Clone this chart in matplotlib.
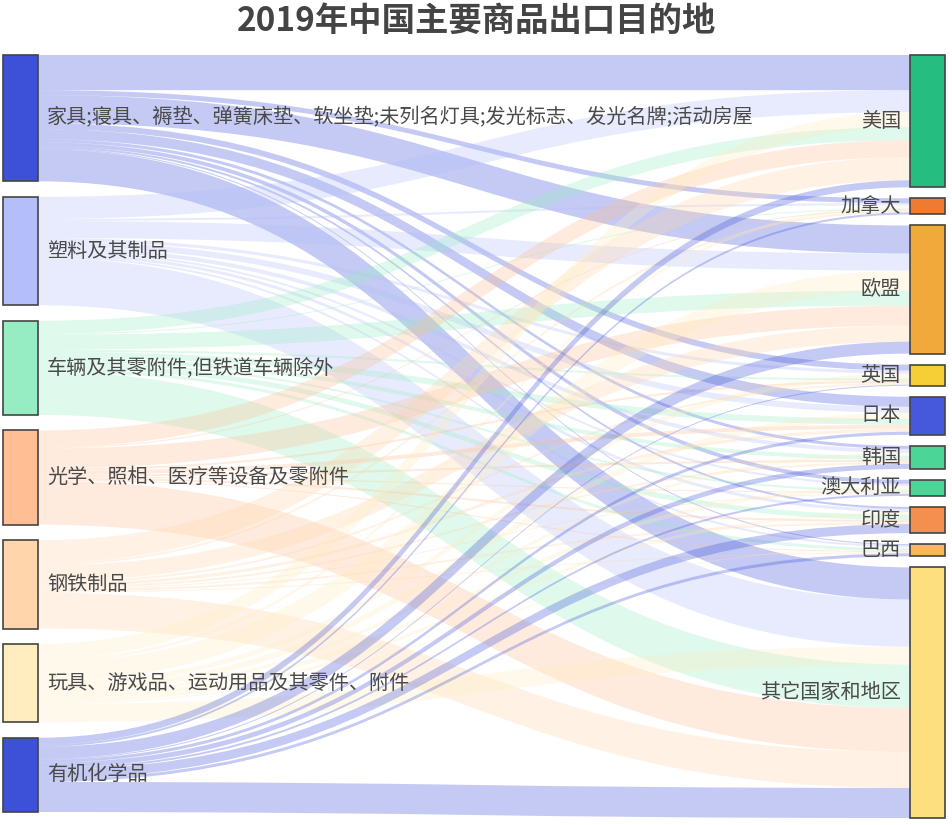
import matplotlib
matplotlib.use('Agg')
import matplotlib.pyplot as plt
from matplotlib.path import Path
from matplotlib.patches import PathPatch, Rectangle
import numpy as np

plt.rcParams['font.family'] = ['Noto Sans CJK SC', 'DejaVu Sans']

title = '2019年中国主要商品出口目的地'

sources = ['家具;寝具、褥垫、弹簧床垫、软坐垫;未列名灯具;发光标志、发光名牌;活动房屋',
           '塑料及其制品',
           '车辆及其零附件,但铁道车辆除外',
           '光学、照相、医疗等设备及零附件',
           '钢铁制品',
           '玩具、游戏品、运动用品及其零件、附件',
           '有机化学品']
targets = ['美国', '加拿大', '欧盟', '英国', '日本', '韩国', '澳大利亚', '印度', '巴西', '其它国家和地区']

source_colors = ['#3d50d8', '#b3befa', '#97edc3', '#ffbe94', '#ffd6ac', '#ffecbf', '#3d50d8']
target_colors = ['#26be80', '#ee7b31', '#f0a93a', '#f6ce35', '#4659dc', '#4bd697', '#4bd697',
                 '#f58f4f', '#fdb560', '#fedf80']

# export value (USD bn), one list per source, in target order
v_furniture = [27.6, 3.9, 22.0, 4.7, 7.9, 2.4, 3.1, 1.6, 0.8, 25.2]
v_plastics  = [17.3, 1.6, 13.4, 2.4, 4.7, 3.1, 1.6, 2.4, 1.6, 37.0]
v_vehicles  = [10.2, 0.8, 11.8, 1.6, 4.7, 3.1, 1.6, 3.9, 2.4, 33.9]
v_optical   = [13.4, 0.8, 15.7, 1.6, 3.1, 1.6, 0.8, 1.6, 0.8, 34.6]
v_steel     = [18.1, 1.6, 12.6, 1.6, 2.4, 1.6, 0.8, 1.6, 0.8, 28.3]
v_toys      = [11.8, 2.4, 15.7, 3.9, 4.7, 2.4, 3.1, 2.4, 0.8, 14.2]
v_organic   = [5.5, 1.6, 9.4, 0.8, 2.4, 3.9, 1.6, 7.1, 2.4, 23.6]

vals = np.array([v_furniture, v_plastics, v_vehicles, v_optical, v_steel, v_toys, v_organic])

# order in which sources stack at each destination node (as in the reference)
target_stack_order = [0, 1, 5, 2, 3, 4, 6]

W, H = 953, 825
fig = plt.figure(figsize=(W / 100, H / 100), dpi=100)
ax = fig.add_axes([0, 0, 1, 1])
ax.set_xlim(0, W)
ax.set_ylim(H, 0)
ax.axis('off')

top, bottom_r, bottom_l = 55, 818, 812
pad = 11
node_w = 35
xl, xr = 3, 910

src_tot = vals.sum(axis=1)
tgt_tot = vals.sum(axis=0)
ky = (bottom_r - top - pad * (len(targets) - 1)) / tgt_tot.sum()
lpad = (bottom_l - top - src_tot.sum() * ky) / (len(sources) - 1)

src_y0 = []
y = top
for t in src_tot:
    src_y0.append(y)
    y += t * ky + lpad
tgt_y0 = []
y = top
for t in tgt_tot:
    tgt_y0.append(y)
    y += t * ky + pad

# links
src_off = list(src_y0)
tgt_off = list(tgt_y0)
link_pos = {}
for i in range(len(sources)):
    for j in range(len(targets)):
        h = vals[i, j] * ky
        link_pos[(i, j)] = [src_off[i], src_off[i] + h, None, None]
        src_off[i] += h
for j in range(len(targets)):
    for i in target_stack_order:
        h = vals[i, j] * ky
        link_pos[(i, j)][2] = tgt_off[j]
        link_pos[(i, j)][3] = tgt_off[j] + h
        tgt_off[j] += h

x0 = xl + node_w
x1 = xr
xm = (x0 + x1) / 2
for (i, j), (sa, sb, ta, tb) in link_pos.items():
    verts = [(x0, sa), (xm, sa), (xm, ta), (x1, ta),
             (x1, tb), (xm, tb), (xm, sb), (x0, sb), (x0, sa)]
    codes = [Path.MOVETO, Path.CURVE4, Path.CURVE4, Path.CURVE4,
             Path.LINETO, Path.CURVE4, Path.CURVE4, Path.CURVE4, Path.CLOSEPOLY]
    ax.add_patch(PathPatch(Path(verts, codes), facecolor=source_colors[i],
                           edgecolor='none', alpha=0.3, zorder=1))

# nodes
for i, name in enumerate(sources):
    h = src_tot[i] * ky
    ax.add_patch(Rectangle((xl, src_y0[i]), node_w, h, facecolor=source_colors[i],
                           edgecolor='#444444', linewidth=1.2, zorder=2))
    ax.text(xl + node_w + 9, src_y0[i] + h / 2, name, ha='left', va='center',
            fontsize=14.5, color='#4a4a4a', zorder=3)
for j, name in enumerate(targets):
    h = tgt_tot[j] * ky
    ax.add_patch(Rectangle((xr, tgt_y0[j]), node_w, h, facecolor=target_colors[j],
                           edgecolor='#444444', linewidth=1.2, zorder=2))
    ax.text(xr - 9, tgt_y0[j] + h / 2, name, ha='right', va='center',
            fontsize=14.5, color='#4a4a4a', zorder=3)

ax.text(W / 2, 21, title, ha='center', va='center', fontsize=24,
        fontweight='bold', color='#444444')

fig.savefig('out.png', dpi=100)
